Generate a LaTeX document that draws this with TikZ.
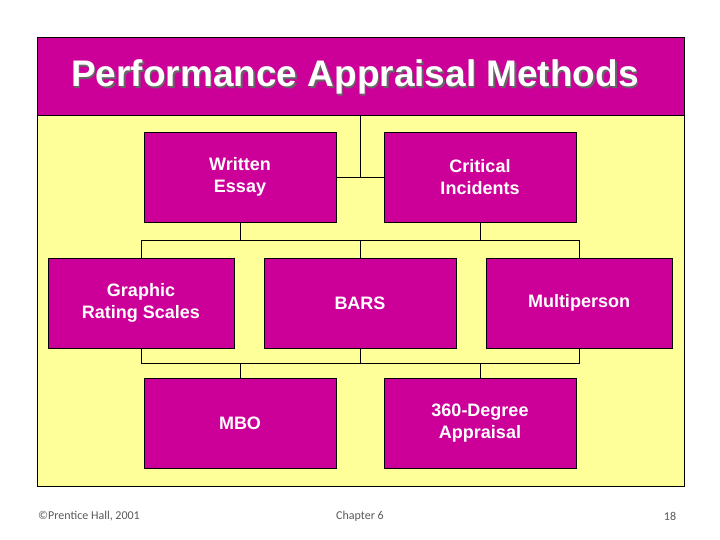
\documentclass[tikz,border=0pt]{standalone}
\usepackage{fontspec}
\setmainfont{Liberation Sans}
\newfontfamily\footfont{Carlito}
\definecolor{mag}{HTML}{CC0099}
\definecolor{yel}{HTML}{FFFF99}
\begin{document}
\begin{tikzpicture}[x=1pt,y=-1pt,
  box/.style={draw=black,fill=mag,minimum width=192pt,minimum height=90pt,inner sep=0pt,
    text=white,font=\fontsize{18}{22}\selectfont\bfseries,align=center},
  conn/.style={draw=black,line width=0.8pt},
  foot/.style={text=gray!70!black,font=\footfont\fontsize{12}{14}\selectfont}]
\useasboundingbox (0,0) rectangle (720,540);
\fill[white] (0,0) rectangle (720,540);
\draw[fill=yel] (37,37) rectangle (684,486);
\draw[fill=mag] (37,37) rectangle (684,115);
\node[text=black!60,font=\fontsize{37}{42}\selectfont\bfseries] at (356.5,78.5) {Performance Appraisal Methods};
\node (title) [text=white,font=\fontsize{37}{42}\selectfont\bfseries] at (355,77) {Performance Appraisal Methods};
\coordinate (top) at (360,115);
\node[box] (we) at (240,177) {Written\\Essay};
\node[box] (ci) at (480,177) {Critical\\Incidents};
\node[box,minimum width=186pt] (gr) at (141,303) {Graphic\\Rating Scales};
\node[box] (bars) at (360,303) {BARS};
\node[box,minimum width=186pt] (mp) at (579,303) {Multiperson};
\node[box] (mbo) at (240,423) {MBO};
\node[box] (deg) at (480,423) {360-Degree\\Appraisal};
\coordinate (j1) at (360,177);
\draw[conn] (top) -- (j1);
\draw[conn] (we.east) -- (ci.west);
\draw[conn] (we.south) -- (240,240);
\draw[conn] (ci.south) -- (480,240);
\draw[conn] (gr.north) -- (141,240) -- (579,240) -- (mp.north);
\draw[conn] (bars.north) -- (360,240);
\draw[conn] (gr.south) -- (141,363) -- (579,363) -- (mp.south);
\draw[conn] (bars.south) -- (360,363);
\draw[conn] (mbo.north) -- (240,363);
\draw[conn] (deg.north) -- (480,363);
\node[foot] (f1) at (89,516) {©Prentice Hall, 2001};
\node[foot] (f2) at (360,516) {Chapter 6};
\node[foot] (f3) at (670,516) {18};
\end{tikzpicture}
\end{document}
